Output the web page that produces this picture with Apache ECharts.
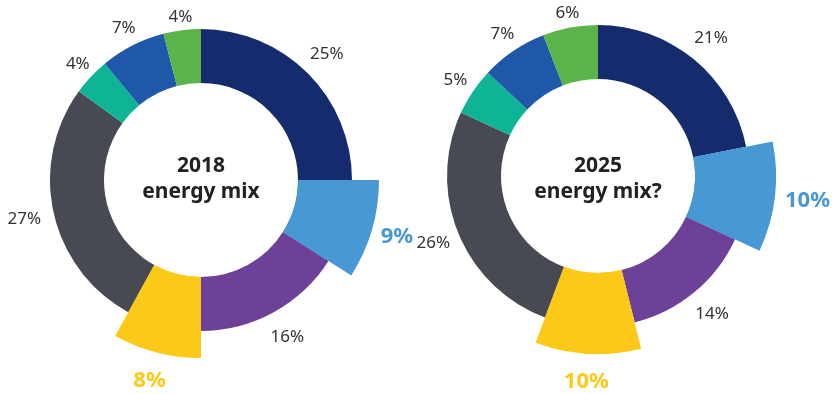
<!DOCTYPE html>
<html><head><meta charset="utf-8">
<script src="https://cdn.jsdelivr.net/npm/echarts@6/dist/echarts.min.js"></script>
<style>html,body{margin:0;padding:0;background:#fff}#c{width:832px;height:394px}</style>
</head><body><div id="c"></div>
<script>
// ---- data ----
const categories = ['Source 1', 'Source 2', 'Source 3', 'Source 4', 'Source 5', 'Source 6', 'Source 7', 'Source 8'];
const shares2018 = [25, 9, 16, 8, 27, 4, 7, 4];
const pctLabels2018 = [25, 9, 16, 8, 27, 4, 7, 4];
const shares2025 = [21.9, 10, 14.2, 9.6, 26.2, 5.1, 7.1, 5.9];
const pctLabels2025 = [21, 10, 14, 10, 26, 5, 7, 6];
const highlighted = [1, 3];
const centerTitles = ['2018\nenergy mix', '2025\nenergy mix?'];

// ---- style ----
const FONT = 'Noto Sans';
const colors = ['#152b6e', '#4899d3', '#6e4199', '#fdc918', '#474a53', '#0eb495', '#1f58a8', '#5bb449'];
const TRANSPARENT = 'rgba(0,0,0,0)';
const layouts = [
  { center: [201, 180], titleTop: 153, labelR: [175, 201, 176, 204, 178, 166, 167, 161] },
  { center: [598, 176], titleTop: 153, labelR: [175, 208, 176, 203, 175, 169, 168, 163] }
];
const INNER = 97, OUTER = 151, OUTER_HI = 178;

const charts = [
  { shares: shares2018, pct: pctLabels2018, title: centerTitles[0] },
  { shares: shares2025, pct: pctLabels2025, title: centerTitles[1] }
];

const series = [];
const titles = [];
charts.forEach((ch, ci) => {
  const lay = layouts[ci];
  const base = {
    type: 'pie', center: lay.center, startAngle: 90, clockwise: true,
    silent: true, animation: false, avoidLabelOverlap: false,
    labelLine: { show: false }
  };
  // base ring
  series.push(Object.assign({}, base, {
    radius: [INNER, OUTER],
    label: { show: false },
    data: categories.map((c, i) => ({ name: c, value: ch.shares[i], itemStyle: { color: colors[i] } }))
  }));
  // highlighted (extended) slices
  series.push(Object.assign({}, base, {
    radius: [INNER, OUTER_HI],
    label: { show: false },
    data: categories.map((c, i) => ({
      name: c, value: ch.shares[i],
      itemStyle: { color: highlighted.includes(i) ? colors[i] : TRANSPARENT }
    }))
  }));
  // label rings, one per slice
  categories.forEach((c, k) => {
    const R = lay.labelR[k];
    const hi = highlighted.includes(k);
    series.push(Object.assign({}, base, {
      radius: [R - 10, R + 10],
      z: 5,
      data: categories.map((c2, i) => ({
        name: c2, value: ch.shares[i],
        itemStyle: { color: TRANSPARENT },
        label: i === k ? {
          show: true, position: 'inside',
          formatter: ch.pct[i] + '%',
          fontFamily: FONT,
          fontSize: hi ? 22 : 17,
          fontWeight: hi ? 'bold' : 'normal',
          color: hi ? colors[i] : '#333333'
        } : { show: false }
      }))
    }));
  });
  titles.push({
    text: ch.title, left: lay.center[0], top: lay.titleTop, textAlign: 'center', padding: 0,
    textStyle: { fontFamily: FONT, fontSize: 21, fontWeight: 'bold', color: '#222222', lineHeight: 26 }
  });
});

const chart = echarts.init(document.getElementById('c'), null, { renderer: 'canvas' });
chart.setOption({
  backgroundColor: '#ffffff',
  animation: false,
  title: titles,
  series: series
});
</script>
</body></html>
